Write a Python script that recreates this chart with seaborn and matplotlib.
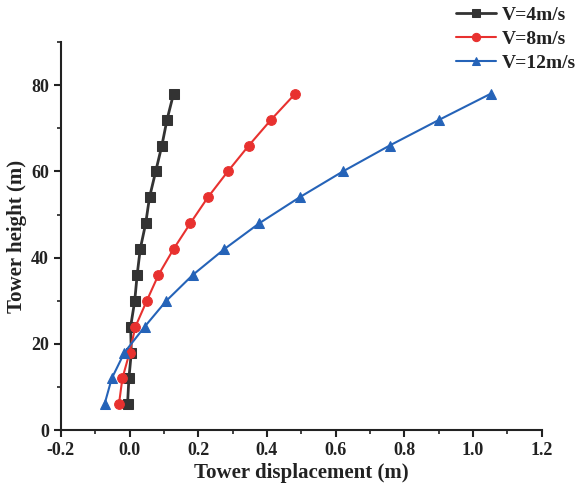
import matplotlib
matplotlib.use("Agg")
import matplotlib.pyplot as plt
import seaborn as sns
import pandas as pd
from matplotlib.ticker import MultipleLocator

sns.set_style("ticks")
plt.rcParams['font.family'] = ['Liberation Serif', 'DejaVu Serif']

heights = [6, 12, 18, 24, 30, 36, 42, 48, 54, 60, 66, 72, 78]
disp_4 = [-0.006, -0.002, 0.005, 0.003, 0.015, 0.022, 0.031, 0.047, 0.058, 0.076, 0.094, 0.109, 0.128]
disp_8 = [-0.031, -0.021, 0.000, 0.017, 0.050, 0.084, 0.128, 0.177, 0.228, 0.286, 0.347, 0.412, 0.482]
disp_12 = [-0.073, -0.052, -0.015, 0.044, 0.107, 0.184, 0.276, 0.378, 0.495, 0.621, 0.757, 0.902, 1.051]
labels = ["V=4m/s", "V=8m/s", "V=12m/s"]
colors = ["#333333", "#e8312f", "#2563b8"]
markers = ["s", "o", "^"]

fig = plt.figure(figsize=(5.8, 4.95), dpi=100)
ax = fig.add_axes([0.105, 0.131, 0.829, 0.784])

for disp, lab, col, mk, lw in zip([disp_4, disp_8, disp_12], labels, colors, markers, [2.0, 1.5, 1.5]):
    df = pd.DataFrame({"disp": disp, "h": heights})
    sns.lineplot(data=df, x="disp", y="h", sort=False, ax=ax, color=col, marker=mk,
                 markersize=7, markeredgecolor=col, linewidth=lw, label=lab)

ax.set_xlim(-0.2, 1.2)
ax.set_ylim(0, 90)
ax.xaxis.set_major_locator(MultipleLocator(0.2))
ax.xaxis.set_minor_locator(MultipleLocator(0.1))
ax.yaxis.set_major_locator(MultipleLocator(20))
ax.yaxis.set_minor_locator(MultipleLocator(10))
ax.set_xticks([-0.2, 0.0, 0.2, 0.4, 0.6, 0.8, 1.0, 1.2])
ax.set_xticklabels(["-0.2", "0.0", "0.2", "0.4", "0.6", "0.8", "1.0", "1.2"])
ax.set_yticks([0, 20, 40, 60, 80])
ax.tick_params(which='major', direction='out', length=5, width=1.5, labelsize=13, colors='#222222')
ax.tick_params(which='minor', direction='out', length=3, width=1.2, colors='#222222')
for lbl in ax.get_xticklabels() + ax.get_yticklabels():
    lbl.set_fontweight('bold')
for s in ['top', 'right']:
    ax.spines[s].set_visible(False)
for s in ['left', 'bottom']:
    ax.spines[s].set_linewidth(1.5)
    ax.spines[s].set_color('#222222')

ax.set_xlabel("Tower displacement (m)", fontsize=15, fontweight='bold', color='#222222', labelpad=3)
ax.set_ylabel("Tower height (m)", fontsize=15, fontweight='bold', color='#222222', labelpad=3)

leg = ax.legend(loc='upper right', bbox_to_anchor=(0.997, 0.992), bbox_transform=fig.transFigure,
                frameon=False, fontsize=14, handlelength=2.1, handletextpad=0.3,
                labelspacing=0.33, borderaxespad=0.0, borderpad=0.1, markerscale=0.85)
for t in leg.get_texts():
    t.set_fontweight('bold')
    t.set_color('#222222')

fig.savefig("out.png", dpi=100)
